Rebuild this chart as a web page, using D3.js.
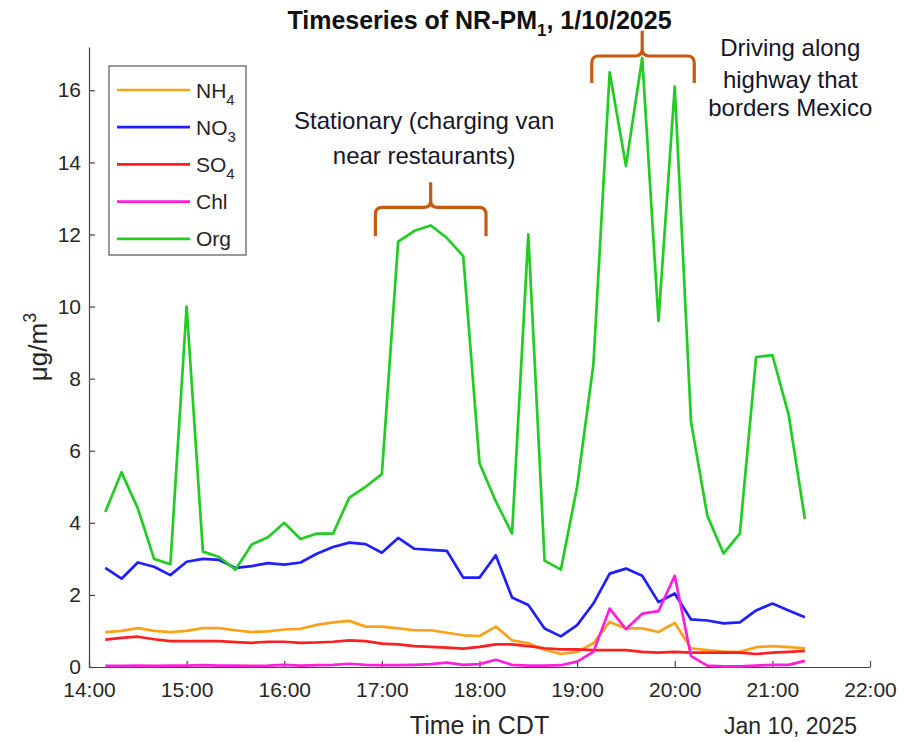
<!DOCTYPE html>
<html>
<head>
<meta charset="utf-8">
<script src="https://cdn.jsdelivr.net/npm/d3@7"></script>
<style>
  body { margin: 0; background: #fff; }
  svg { font-family: "Liberation Sans", Arial, sans-serif; }
</style>
</head>
<body>
<div id="chart"></div>
<script>
// sample times (CDT, Jan 10 2025)
const times = [
  '14:10', '14:20', '14:30', '14:40', '14:50',
  '15:00', '15:10', '15:20', '15:30', '15:40', '15:50',
  '16:00', '16:10', '16:20', '16:30', '16:40', '16:50',
  '17:00', '17:10', '17:20', '17:30', '17:40', '17:50',
  '18:00', '18:10', '18:20', '18:30', '18:40', '18:50',
  '19:00', '19:10', '19:20', '19:30', '19:40', '19:50',
  '20:00', '20:10', '20:20', '20:30', '20:40', '20:50',
  '21:00', '21:10', '21:20'
];

const nh4 = [0.97, 1.0, 1.08, 1.0, 0.97, 1.0, 1.08, 1.08, 1.02, 0.97, 0.99,
  1.04, 1.06, 1.17, 1.24, 1.28, 1.12, 1.12, 1.07, 1.02, 1.02, 0.95, 0.88,
  0.86, 1.12, 0.74, 0.66, 0.48, 0.36, 0.42, 0.66, 1.25, 1.07, 1.07, 0.97,
  1.22, 0.52, 0.47, 0.43, 0.42, 0.55, 0.58, 0.55, 0.52];

const no3 = [2.75, 2.45, 2.9, 2.78, 2.55, 2.92, 3.0, 2.97, 2.75, 2.8, 2.88,
  2.84, 2.9, 3.14, 3.33, 3.45, 3.41, 3.17, 3.58, 3.28, 3.25, 3.22, 2.48,
  2.48, 3.1, 1.93, 1.72, 1.07, 0.85, 1.16, 1.76, 2.59, 2.73, 2.53, 1.8,
  2.04, 1.32, 1.29, 1.21, 1.24, 1.57, 1.76, 1.57, 1.38];

const so4 = [0.76, 0.81, 0.84, 0.77, 0.72, 0.72, 0.72, 0.72, 0.69, 0.67, 0.7,
  0.7, 0.67, 0.68, 0.7, 0.74, 0.72, 0.65, 0.63, 0.58, 0.56, 0.54, 0.51,
  0.56, 0.63, 0.63, 0.58, 0.52, 0.49, 0.49, 0.47, 0.47, 0.47, 0.42, 0.4,
  0.42, 0.4, 0.4, 0.4, 0.4, 0.36, 0.4, 0.42, 0.45];

const chl = [0.03, 0.03, 0.04, 0.03, 0.04, 0.04, 0.05, 0.04, 0.04, 0.03, 0.04,
  0.06, 0.04, 0.05, 0.06, 0.09, 0.06, 0.05, 0.05, 0.06, 0.08, 0.12, 0.06,
  0.08, 0.2, 0.06, 0.04, 0.04, 0.05, 0.15, 0.42, 1.62, 1.05, 1.48, 1.55,
  2.53, 0.3, 0.04, 0.02, 0.02, 0.04, 0.06, 0.06, 0.17];

const org = [4.3, 5.4, 4.4, 3.0, 2.85, 10.0, 3.2, 3.05, 2.7, 3.4, 3.6,
  4.0, 3.55, 3.7, 3.7, 4.7, 5.0, 5.35, 11.8, 12.1, 12.25, 11.9, 11.4,
  5.65, 4.6, 3.7, 12.0, 2.95, 2.7, 5.0, 8.4, 16.5, 13.9, 16.9, 9.6,
  16.1, 6.8, 4.2, 3.15, 3.7, 8.6, 8.65, 7.0, 4.1];

// legend order, with subscripts split out
const species = [
  { name: 'NH', sub: '4', values: nh4, color: '#f9a31b' },
  { name: 'NO', sub: '3', values: no3, color: '#1f1fff' },
  { name: 'SO', sub: '4', values: so4, color: '#ff1f1f' },
  { name: 'Chl', sub: '', values: chl, color: '#ff1fdd' },
  { name: 'Org', sub: '', values: org, color: '#22cc22' }
];

const xDomain = ['14:00', '22:00'];
const yDomain = [0, 17.2];
const yTicks = [0, 2, 4, 6, 8, 10, 12, 14, 16];

// annotation braces: start/end/tip times, bottom/bar/top in ug/m3
const notes = [
  { t0: '16:56', t1: '18:04', tip: '17:30', lo: 11.95, bar: 12.75, hi: 13.45,
    lines: ['Stationary (charging van', 'near restaurants)'], tx: '17:26', ty: [14.93, 13.96] },
  { t0: '19:09', t1: '20:12', tip: '19:40', lo: 16.2, bar: 16.95, hi: 17.65,
    lines: ['Driving along', 'highway that', 'borders Mexico'], tx: '21:11', ty: [16.95, 16.07, 15.29] }
];

const width = 907, height = 742;
const margin = { top: 47, right: 37, bottom: 75, left: 89 };
const parseTime = d3.timeParse('%Y-%m-%d %H:%M');
const toDate = s => parseTime('2025-01-10 ' + s);

const svg = d3.select('#chart').append('svg')
  .attr('width', width)
  .attr('height', height);

const x = d3.scaleTime()
  .domain(xDomain.map(toDate))
  .range([margin.left, width - margin.right]);

const y = d3.scaleLinear()
  .domain(yDomain)
  .range([height - margin.bottom, margin.top]);

// axes (MATLAB style: ticks pointing inward)
const xAxis = svg.append('g')
  .attr('transform', `translate(0,${height - margin.bottom})`)
  .call(d3.axisBottom(x)
    .ticks(d3.timeHour.every(1))
    .tickFormat(d3.timeFormat('%H:%M'))
    .tickSizeInner(-6)
    .tickSizeOuter(0)
    .tickPadding(15));

const yAxis = svg.append('g')
  .attr('transform', `translate(${margin.left},0)`)
  .call(d3.axisLeft(y)
    .tickValues(yTicks)
    .tickSizeInner(-6)
    .tickSizeOuter(0)
    .tickPadding(8));

[xAxis, yAxis].forEach(a => {
  a.select('.domain').attr('stroke', '#444').attr('stroke-width', 1.2);
  a.selectAll('.tick line').attr('stroke', '#444').attr('stroke-width', 1.2);
  a.selectAll('.tick text')
    .attr('fill', '#262626')
    .style('font-size', '21px');
});

// series lines
const line = d3.line()
  .x((d, i) => x(toDate(times[i])))
  .y(d => y(d));

svg.append('g')
  .selectAll('path')
  .data(species)
  .join('path')
  .attr('fill', 'none')
  .attr('stroke', d => d.color)
  .attr('stroke-width', 2.7)
  .attr('stroke-linejoin', 'round')
  .attr('d', d => line(d.values));

// braces + annotation text
const brace = (n) => {
  const a = x(toDate(n.t0)), b = x(toDate(n.t1)), m = x(toDate(n.tip));
  const yl = y(n.lo), yb = y(n.bar), yh = y(n.hi), r = 7;
  return `M${a},${yl} L${a},${yb + r} Q${a},${yb} ${a + r},${yb} L${m - r},${yb}
    Q${m},${yb} ${m},${yb - r} L${m},${yh} M${m},${yb - r} Q${m},${yb} ${m + r},${yb}
    L${b - r},${yb} Q${b},${yb} ${b},${yb + r} L${b},${yl}`;
};

const ann = svg.append('g');
ann.selectAll('path')
  .data(notes)
  .join('path')
  .attr('fill', 'none')
  .attr('stroke', '#c8590e')
  .attr('stroke-width', 3.2)
  .attr('d', brace);

notes.forEach(n => {
  n.lines.forEach((s, i) => {
    ann.append('text')
      .attr('x', x(toDate(n.tx)))
      .attr('y', y(n.ty[i]))
      .attr('text-anchor', 'middle')
      .attr('fill', '#15152a')
      .style('font-size', '24px')
      .text(s);
  });
});

// legend
const lg = svg.append('g').attr('transform', 'translate(109,66)');
lg.append('rect')
  .attr('width', 137)
  .attr('height', 189)
  .attr('fill', '#fff')
  .attr('stroke', '#555')
  .attr('stroke-width', 1.2);

const item = lg.selectAll('g.item')
  .data(species)
  .join('g')
  .attr('class', 'item')
  .attr('transform', (d, i) => `translate(0,${24 + i * 37.2})`);

item.append('line')
  .attr('x1', 8).attr('x2', 81)
  .attr('stroke', d => d.color)
  .attr('stroke-width', 2.7);

const lt = item.append('text')
  .attr('x', 87)
  .attr('dy', '0.36em')
  .attr('fill', '#262626')
  .style('font-size', '21px');
lt.append('tspan').text(d => d.name);
lt.append('tspan')
  .attr('dy', 7)
  .style('font-size', '15px')
  .text(d => d.sub);

// title
const title = svg.append('text')
  .attr('x', (margin.left + width - margin.right) / 2)
  .attr('y', 29)
  .attr('text-anchor', 'middle')
  .attr('font-weight', 'bold')
  .attr('fill', '#111')
  .style('font-size', '25px');
title.append('tspan').text('Timeseries of NR-PM');
title.append('tspan').attr('dy', 7).style('font-size', '17px').text('1');
title.append('tspan').attr('dy', -7).text(', 1/10/2025');

// axis labels
svg.append('text')
  .attr('x', (margin.left + width - margin.right) / 2)
  .attr('y', 734)
  .attr('text-anchor', 'middle')
  .attr('fill', '#262626')
  .style('font-size', '25px')
  .text('Time in CDT');

svg.append('text')
  .attr('x', 857)
  .attr('y', 734)
  .attr('text-anchor', 'end')
  .attr('fill', '#262626')
  .style('font-size', '23px')
  .text('Jan 10, 2025');

const yl = svg.append('text')
  .attr('transform', `translate(47,347) rotate(-90)`)
  .attr('text-anchor', 'middle')
  .attr('fill', '#262626')
  .style('font-size', '26px');
yl.append('tspan').text('μg/m');
yl.append('tspan').attr('dy', -11).style('font-size', '18px').text('3');
</script>
</body>
</html>
